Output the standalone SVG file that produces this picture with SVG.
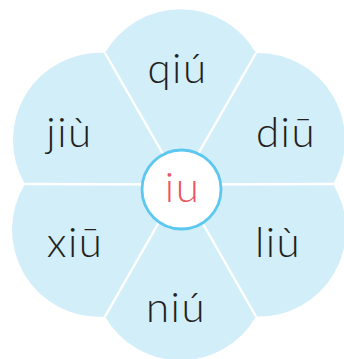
<svg xmlns="http://www.w3.org/2000/svg" width="344" height="359" viewBox="0 0 344 359">
  <style>
    .petal { fill: #d2eef9; }
    .sep { stroke: #ffffff; stroke-width: 2.5; fill: none; }
    .lbl { font-family: Lato, "Open Sans", "DejaVu Sans", sans-serif; font-weight: 300; font-size: 42px; letter-spacing: 1.5px; fill: #231f20; text-anchor: middle; }
    .hub { fill: #ffffff; stroke: #5cc8f0; stroke-width: 2.8; }
    .hubtxt { font-family: Lato, "Open Sans", "DejaVu Sans", sans-serif; font-weight: 300; font-size: 42px; letter-spacing: 1.5px; fill: #ec5561; text-anchor: middle; }
  </style>
  <rect width="344" height="359" fill="#ffffff"/>
  <g id="petal-qiu">
    <path class="petal" d="M180.5,184.5 L105,53 A87,87 0 0 1 256,53 Z"/>
    <text class="lbl" x="177.5" y="83">qiú</text>
  </g>
  <g id="petal-diu">
    <path class="petal" d="M180.5,184.5 L256,53 A87,87 0 0 1 333,184 Z"/>
    <text class="lbl" x="286" y="146.5">diū</text>
  </g>
  <g id="petal-liu">
    <path class="petal" d="M180.5,184.5 L333,184 A87,87 0 0 1 256,316.5 Z"/>
    <text class="lbl" x="278" y="256.5">liù</text>
  </g>
  <g id="petal-niu">
    <path class="petal" d="M180.5,184.5 L256,316.5 A87,87 0 0 1 105,316.5 Z"/>
    <text class="lbl" x="176" y="321.5">niú</text>
  </g>
  <g id="petal-xiu">
    <path class="petal" d="M180.5,184.5 L105,316.5 A87,87 0 0 1 25,184 Z"/>
    <text class="lbl" x="75" y="257">xiū</text>
  </g>
  <g id="petal-jiu">
    <path class="petal" d="M180.5,184.5 L25,184 A87,87 0 0 1 105,53 Z"/>
    <text class="lbl" x="69.5" y="146.5">jiù</text>
  </g>
  <g id="connectors">
    <line class="sep" x1="180.5" y1="184.5" x2="105" y2="53"/>
    <line class="sep" x1="180.5" y1="184.5" x2="256" y2="53"/>
    <line class="sep" x1="180.5" y1="184.5" x2="333" y2="184"/>
    <line class="sep" x1="180.5" y1="184.5" x2="256" y2="316.5"/>
    <line class="sep" x1="180.5" y1="184.5" x2="105" y2="316.5"/>
    <line class="sep" x1="180.5" y1="184.5" x2="25" y2="184"/>
  </g>
  <g id="center-iu">
    <circle class="hub" cx="181.5" cy="189.5" r="39.5"/>
    <text class="hubtxt" x="182.5" y="201.5">iu</text>
  </g>
</svg>
